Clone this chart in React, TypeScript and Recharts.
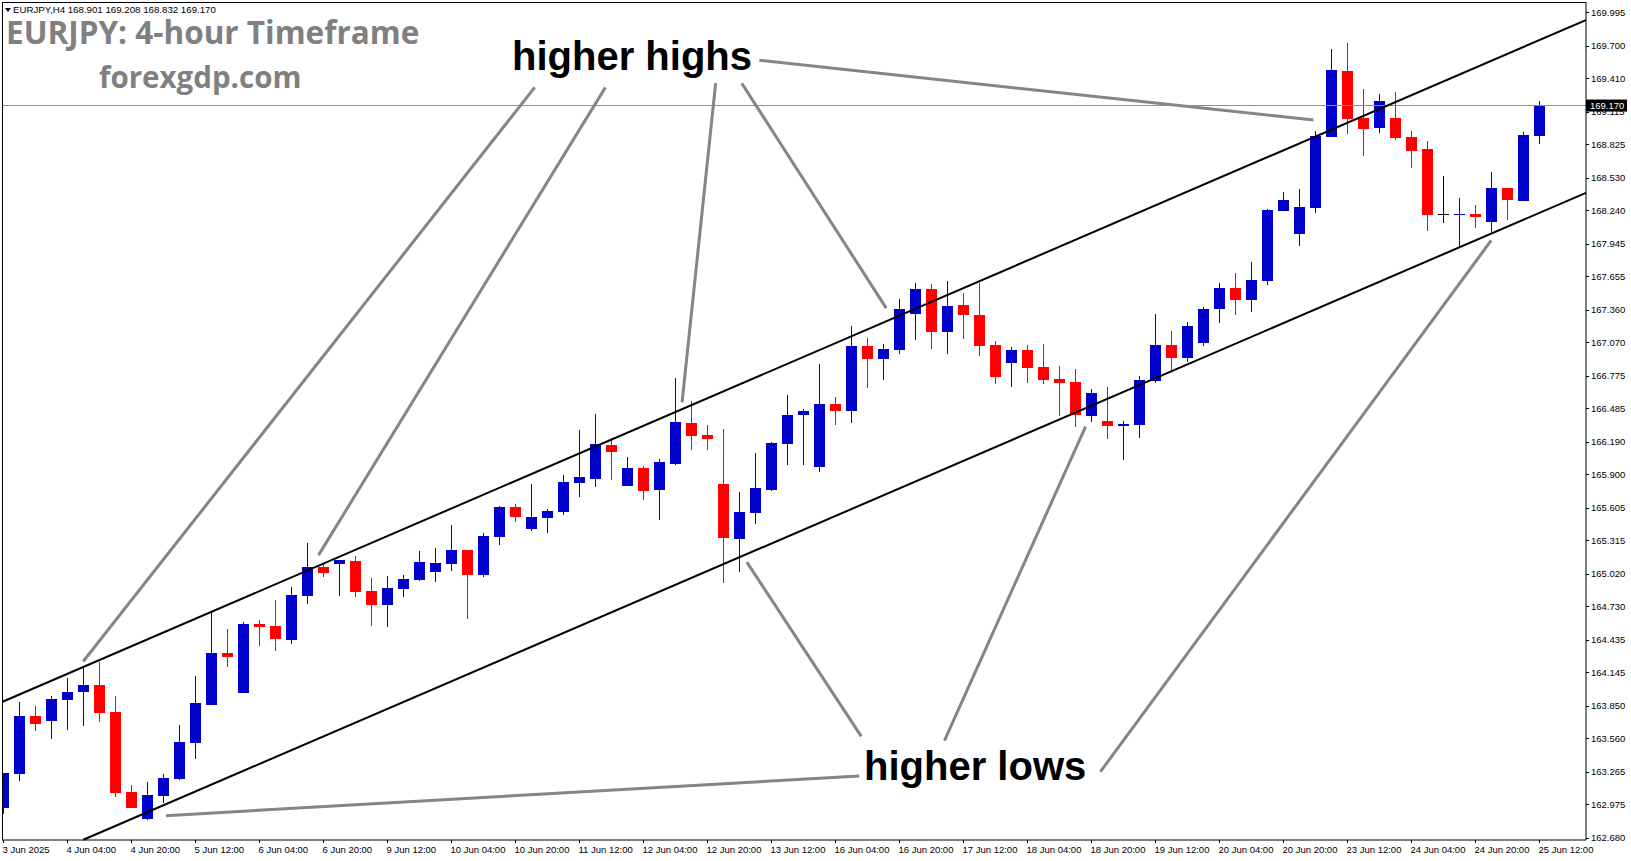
import React from 'react';
import { ComposedChart, Bar, XAxis, YAxis, ReferenceLine } from 'recharts';

// EURJPY H4, 3 Jun 12:00 -> 25 Jun 12:00 (one label every 4 bars)
const timeLabels = [
  '3 Jun 2025', '4 Jun 04:00', '4 Jun 20:00', '5 Jun 12:00', '6 Jun 04:00', '6 Jun 20:00',
  '9 Jun 12:00', '10 Jun 04:00', '10 Jun 20:00', '11 Jun 12:00', '12 Jun 04:00', '12 Jun 20:00',
  '13 Jun 12:00', '16 Jun 04:00', '16 Jun 20:00', '17 Jun 12:00', '18 Jun 04:00', '18 Jun 20:00',
  '19 Jun 12:00', '20 Jun 04:00', '20 Jun 20:00', '23 Jun 12:00', '24 Jun 04:00', '24 Jun 20:00',
  '25 Jun 12:00',
];

const opens = [
  162.945, 163.244, 163.758, 163.717, 163.900, 163.971, 164.033, 163.794, 163.085, 162.845,
  163.052, 163.200, 163.522, 163.859, 164.317, 163.965, 164.574, 164.556, 164.435, 164.825,
  165.079, 165.109, 165.132, 164.867, 164.745, 164.887, 164.964, 165.035, 165.109, 165.230,
  165.011, 165.348, 165.611, 165.419, 165.517, 165.570, 165.827, 165.862, 166.161, 165.800,
  165.957, 165.765, 165.995, 166.356, 166.249, 165.815, 165.330, 165.561, 165.765, 166.173,
  166.427, 165.969, 166.524, 166.465, 167.039, 166.926, 167.006, 167.325, 167.544, 167.166,
  167.402, 167.313, 167.047, 166.891, 167.003, 166.853, 166.746, 166.719, 166.421, 166.374,
  166.332, 166.341, 166.731, 167.047, 166.935, 167.062, 167.370, 167.553, 167.449, 167.618,
  168.238, 168.034, 168.265, 168.894, 169.477, 169.060, 168.974, 169.060, 168.891, 168.785,
  168.209, 168.197, 168.209, 168.141, 168.439, 168.327, 168.901,
];

const highs = [
  163.256, 163.885, 163.847, 163.936, 164.098, 164.196, 164.240, 163.936, 163.147, 163.173,
  163.244, 163.679, 164.113, 164.677, 164.530, 164.592, 164.609, 164.787, 164.902, 165.292,
  165.112, 165.141, 165.177, 164.982, 164.999, 165.008, 165.221, 165.248, 165.452, 165.230,
  165.381, 165.620, 165.638, 165.815, 165.593, 165.895, 166.294, 166.436, 166.223, 166.054,
  165.975, 166.037, 166.752, 166.551, 166.338, 166.303, 165.744, 166.090, 166.187, 166.604,
  166.480, 166.879, 166.586, 167.216, 167.110, 167.056, 167.455, 167.597, 167.588, 167.615,
  167.508, 167.597, 167.083, 167.030, 167.047, 167.056, 166.861, 166.835, 166.657, 166.675,
  166.374, 166.773, 167.322, 167.172, 167.251, 167.387, 167.594, 167.683, 167.783, 168.253,
  168.404, 168.430, 168.945, 169.672, 169.725, 169.317, 169.273, 169.290, 168.945, 168.856,
  168.546, 168.351, 168.289, 168.581, 168.439, 168.936, 169.208,
];

const lows = [
  162.890, 163.182, 163.628, 163.555, 163.634, 163.670, 163.708, 163.043, 162.946, 162.831,
  162.987, 163.194, 163.380, 163.859, 164.196, 163.965, 164.382, 164.338, 164.400, 164.754,
  164.994, 164.825, 164.816, 164.559, 164.550, 164.816, 164.955, 164.946, 165.044, 164.621,
  164.994, 165.277, 165.481, 165.401, 165.384, 165.543, 165.703, 165.791, 165.853, 165.800,
  165.676, 165.499, 165.986, 166.119, 166.119, 164.940, 165.038, 165.463, 165.756, 165.986,
  165.986, 165.925, 166.341, 166.359, 166.669, 166.740, 166.971, 167.095, 167.015, 166.971,
  167.104, 166.953, 166.705, 166.678, 166.714, 166.705, 166.421, 166.323, 166.368, 166.217,
  166.031, 166.226, 166.714, 166.811, 166.900, 167.040, 167.245, 167.316, 167.343, 167.582,
  168.238, 167.928, 168.221, 168.894, 168.921, 168.726, 168.930, 168.868, 168.620, 168.061,
  168.132, 167.916, 168.088, 168.032, 168.159, 168.327, 168.832,
];

const closes = [
  163.256, 163.758, 163.690, 163.909, 163.971, 164.033, 163.788, 163.079, 162.946, 163.058,
  163.209, 163.528, 163.874, 164.317, 164.284, 164.574, 164.550, 164.438, 164.831, 165.079,
  165.029, 165.141, 164.861, 164.745, 164.893, 164.973, 165.124, 165.115, 165.230, 165.011,
  165.354, 165.611, 165.525, 165.522, 165.576, 165.833, 165.877, 166.170, 166.102, 165.957,
  165.756, 166.010, 166.365, 166.244, 166.217, 165.339, 165.567, 165.780, 166.178, 166.427,
  166.462, 166.524, 166.465, 167.039, 166.926, 167.012, 167.367, 167.544, 167.166, 167.393,
  167.316, 167.042, 166.767, 167.003, 166.847, 166.740, 166.714, 166.430, 166.622, 166.332,
  166.347, 166.737, 167.047, 166.935, 167.216, 167.367, 167.553, 167.449, 167.624, 168.244,
  168.333, 168.271, 168.900, 169.485, 169.051, 168.965, 169.211, 168.885, 168.770, 168.203,
  168.209, 168.209, 168.185, 168.439, 168.336, 168.909, 169.170,
];

const priceTicks = [
  169.995, 169.700, 169.410, 169.115, 168.825, 168.530, 168.240, 167.945, 167.655, 167.360,
  167.070, 166.775, 166.485, 166.190, 165.900, 165.605, 165.315, 165.020, 164.730, 164.435,
  164.145, 163.850, 163.560, 163.265, 162.975, 162.680,
];

const lastPrice = 169.17;

// channel lines, in (bar index, price)
const upperChannel = [{ x: -0.06, y: 163.884 }, { x: 98.9, y: 169.928 }];
const lowerChannel = [{ x: 4.99, y: 162.66 }, { x: 98.9, y: 168.396 }];

// grey arrows from the captions to the swing points
const highPointers = [
  [{ x: 33.2, y: 169.331 }, { x: 4.98, y: 164.241 }],
  [{ x: 37.62, y: 169.331 }, { x: 19.69, y: 165.184 }],
  [{ x: 44.51, y: 169.368 }, { x: 42.41, y: 166.538 }],
  [{ x: 46.14, y: 169.368 }, { x: 55.17, y: 167.374 }],
  [{ x: 47.24, y: 169.571 }, { x: 81.87, y: 169.042 }],
];
const lowPointers = [
  [{ x: 53.48, y: 163.226 }, { x: 10.16, y: 162.874 }],
  [{ x: 53.61, y: 163.577 }, { x: 46.46, y: 165.122 }],
  [{ x: 58.81, y: 163.54 }, { x: 67.63, y: 166.324 }],
  [{ x: 68.56, y: 163.264 }, { x: 92.98, y: 167.974 }],
];

const BULL = '#0000cc';
const BEAR = '#ff0000';
const DOJI = '#000000';

const data = opens.map((o, i) => ({
  i,
  o,
  h: highs[i],
  l: lows[i],
  c: closes[i],
  range: [lows[i], highs[i]],
}));
const labelIdx = timeLabels.map((_, k) => k * 4);

const Candle = (props: any) => {
  const { x, y, width, height, payload } = props;
  if (x == null || payload == null) return null;
  const { o, h, l, c } = payload;
  const top = Math.min(y, y + height);
  const bot = Math.max(y, y + height);
  const span = h - l;
  const py = (v: number) => (span > 0 ? top + ((h - v) / span) * (bot - top) : top);
  const cx = Math.floor(x + width / 2) + 0.5;
  const color = c > o ? BULL : c < o ? BEAR : DOJI;
  const bTop = Math.round(py(Math.max(o, c)));
  const bBot = Math.round(py(Math.min(o, c)));
  return (
    <g>
      <rect x={cx - 0.5} y={Math.round(top)} width={1} height={Math.max(1, Math.round(bot) - Math.round(top))} fill={color} />
      <rect x={cx - 5.5} y={bTop} width={11} height={Math.max(1, bBot - bTop)} fill={color} />
    </g>
  );
};

const TimeTick = ({ x, y, payload }: any) => (
  <g>
    <rect x={Math.floor(x)} y={y} width={1} height={3} fill="#000" />
    <text x={x - 1} y={y + 13} fontSize={9.5} fill="#000">
      {timeLabels[Math.round(payload.value / 4)]}
    </text>
  </g>
);

const PriceTick = ({ x, y, payload }: any) => (
  <g>
    <rect x={x} y={Math.round(y)} width={3} height={1} fill="#000" />
    <text x={x + 5} y={y + 3.5} fontSize={9.5} fill="#000">
      {Number(payload.value).toFixed(3)}
    </text>
  </g>
);

const PriceTag = (props: any) => {
  const vb = props.viewBox || {};
  const right = (vb.x || 0) + (vb.width || 0);
  const yy = vb.y || 0;
  return (
    <g>
      <rect x={right} y={yy - 6} width={41} height={12} fill="#000" />
      <text x={right + 4} y={yy + 3.5} fontSize={9.5} fill="#fff">
        {lastPrice.toFixed(3)}
      </text>
    </g>
  );
};

export default function App() {
  return (
    <div
      style={{
        position: 'absolute',
        left: 0,
        top: 0,
        width: 1631,
        height: 861,
        background: '#fff',
        fontFamily: '"Liberation Sans", Arial, sans-serif',
      }}
    >
      <ComposedChart width={1631} height={861} data={data} margin={{ top: 2, right: 0, bottom: 0, left: 2 }}>
        <XAxis
          type="number"
          dataKey="i"
          domain={[-0.09375, 98.90625]}
          allowDataOverflow
          ticks={labelIdx}
          interval={0}
          tickLine={false}
          tickSize={0}
          tickMargin={0}
          tick={<TimeTick />}
          height={21}
          axisLine={{ stroke: '#000' }}
        />
        <YAxis
          orientation="right"
          type="number"
          domain={[162.658, 170.088]}
          allowDataOverflow
          ticks={priceTicks}
          interval={0}
          tickLine={false}
          tickSize={0}
          tickMargin={0}
          tick={<PriceTick />}
          width={45}
          axisLine={{ stroke: '#000' }}
        />
        <Bar dataKey="range" barSize={11} shape={Candle} isAnimationActive={false} />
        <ReferenceLine y={lastPrice} stroke="#8391a3" strokeWidth={1} label={PriceTag} />
        {[upperChannel, lowerChannel].map((seg, k) => (
          <ReferenceLine key={`ch-${k}`} segment={seg} stroke="#000" strokeWidth={2} ifOverflow="visible" />
        ))}
        {[...highPointers, ...lowPointers].map((seg, k) => (
          <ReferenceLine key={`pt-${k}`} segment={seg} stroke="#858585" strokeWidth={3} ifOverflow="visible" />
        ))}
      </ComposedChart>

      <svg
        width={1631}
        height={861}
        style={{ position: 'absolute', left: 0, top: 0, pointerEvents: 'none' }}
      >
        <rect x={2} y={2} width={1} height={838} fill="#000" />
        <rect x={2} y={2} width={1584} height={1} fill="#000" />
        <path d="M5 8 L11 8 L8 12 Z" fill="#000" />
        <text x={13} y={13} fontSize={9.7} fill="#000">
          EURJPY,H4  168.901 169.208 168.832 169.170
        </text>
        <text x={6} y={44} fontSize={31.5} fontWeight={700} fill="#808080" fontFamily='"Open Sans", sans-serif'>
          EURJPY: 4-hour Timeframe
        </text>
        <text x={99} y={88} fontSize={29.5} fontWeight={700} fill="#808080" fontFamily='"Open Sans", sans-serif'>
          forexgdp.com
        </text>
        <text x={512} y={70} fontSize={40} fontWeight={700} fill="#000">
          higher highs
        </text>
        <text x={864} y={780} fontSize={40} fontWeight={700} fill="#000">
          higher lows
        </text>
      </svg>
    </div>
  );
}
